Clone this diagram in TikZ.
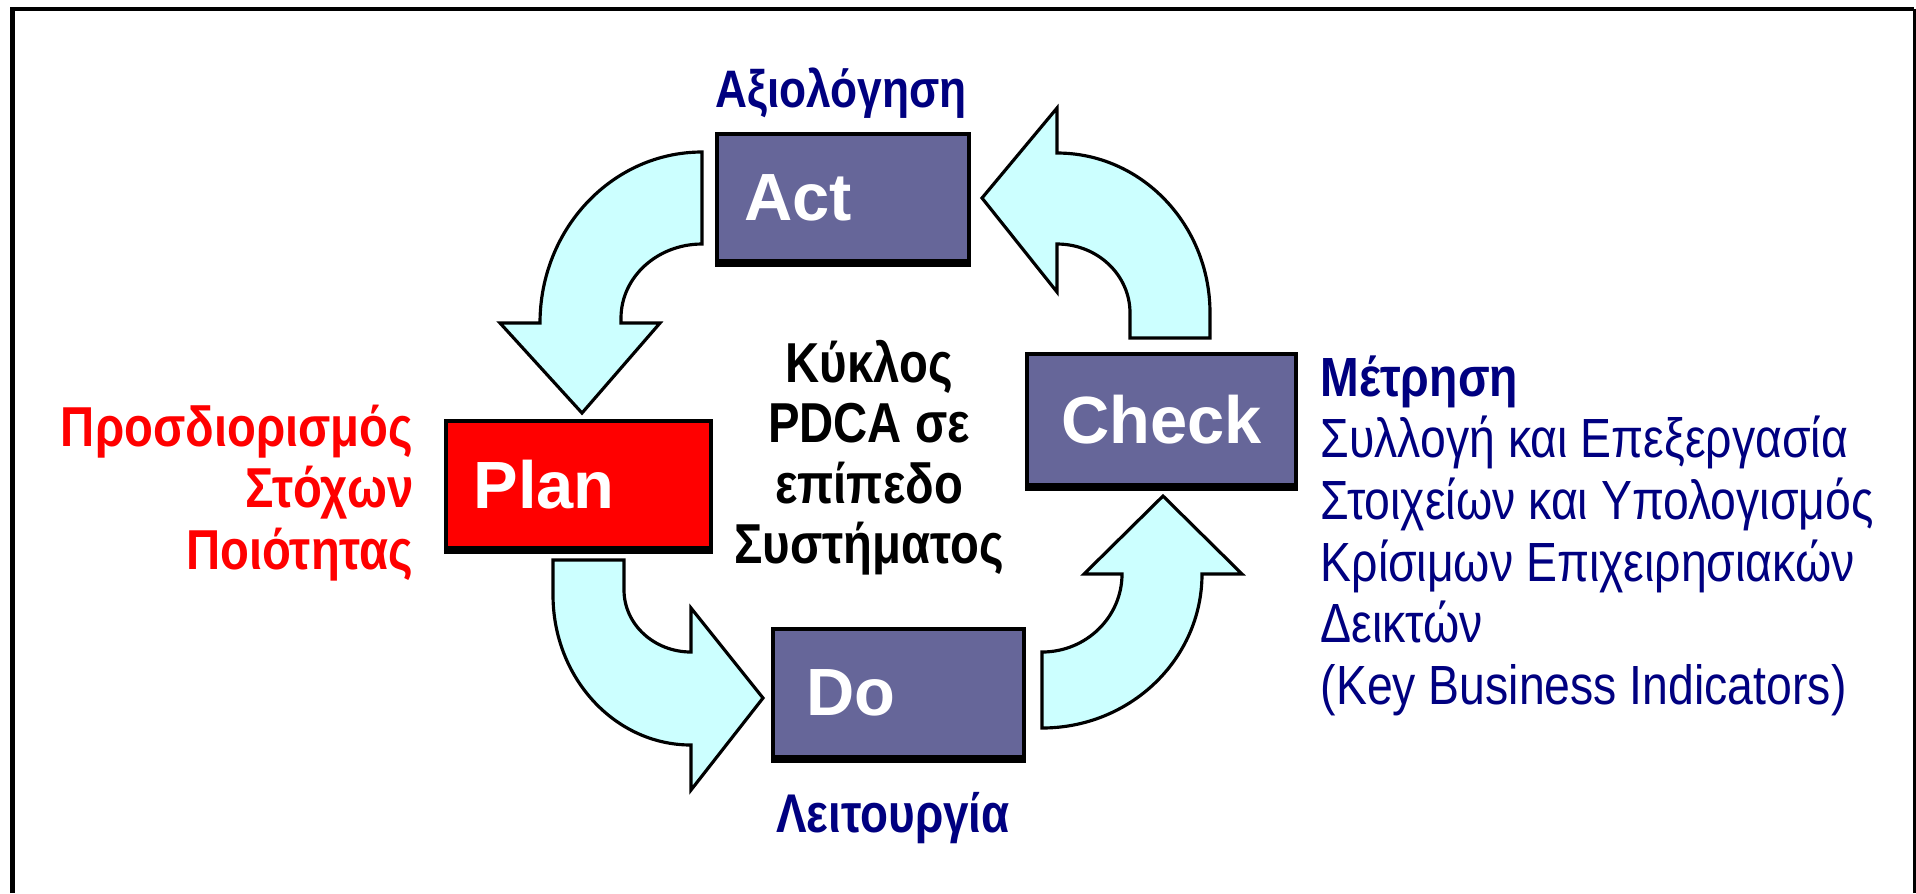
\documentclass[tikz,border=0pt]{standalone}
\usepackage{fontspec}
\setmainfont{Liberation Sans}
\newfontfamily\narrowsans[FakeStretch=0.84]{Liberation Sans}
\usetikzlibrary{positioning}
\definecolor{pdcanavy}{HTML}{000080}
\definecolor{pdcabox}{HTML}{666699}
\definecolor{pdcacyan}{HTML}{CCFFFF}

\begin{document}
\begin{tikzpicture}[x=0.01cm, y=-0.01cm,
    stagebox/.style={draw=black, line width=1.2pt, fill=pdcabox, inner sep=0pt,
        minimum width=2.52cm, minimum height=1.27cm},
    stagelabel/.style={font=\bfseries\fontsize{19pt}{22pt}\selectfont, text=white,
        inner sep=0pt, anchor=west},
    cyclearrow/.style={draw=black, line width=0.9pt, fill=pdcacyan, line join=miter},
    phaseword/.style={font=\narrowsans\bfseries\fontsize{15.5pt}{18pt}\selectfont,
        text=pdcanavy, inner sep=0pt, anchor=base}]
    \useasboundingbox (0,0) rectangle (1916,893);

    % frame
    \draw[line width=1.4pt] (12.5,893) -- (12.5,9) -- (1914,9);
    \draw[line width=0.8pt] (1914.5,9) -- (1914.5,893);

    % cycle arrows
    % Act -> Plan
    \draw[cyclearrow] (702,152) .. controls (612.6,152) and (540,228.6) .. (540,323)
        -- (500,323) -- (582,413) -- (660,323) -- (621,323) -- (621,318)
        .. controls (621,277.2) and (657.3,244) .. (702,244) -- cycle;
    % Check -> Act
    \draw[cyclearrow] (1130,338) -- (1210,338) -- (1210,313)
        .. controls (1210,224.7) and (1141.5,153) .. (1057,153)
        -- (1057,108) -- (982,198) -- (1057,292) -- (1057,244)
        .. controls (1097.3,244) and (1130,274.9) .. (1130,313) -- cycle;
    % Plan -> Do
    \draw[cyclearrow] (553,560) -- (624,560) -- (624,590)
        .. controls (624,624.2) and (654,652) .. (691,652)
        -- (691,608) -- (763,698) -- (691,790) -- (691,745)
        .. controls (614.8,745) and (553,677.8) .. (553,595) -- cycle;
    % Do -> Check
    \draw[cyclearrow] (1042,728) .. controls (1130.3,728) and (1202,659) .. (1202,574)
        -- (1242,574) -- (1163,496) -- (1084,574) -- (1122,574)
        .. controls (1122,617) and (1086.2,652) .. (1042,652) -- cycle;

    % stages
    \node[stagebox] (act) at (843,197.5) {};
    \node[stagebox, fill=red, minimum width=2.65cm] (plan) at (578.5,484.5) {};
    \node[stagebox, minimum width=2.69cm, minimum height=1.31cm] (check) at (1161.5,419.5) {};
    \node[stagebox, minimum width=2.51cm, minimum height=1.28cm] (do) at (898.5,693) {};
    \foreach \s in {act,plan,check,do}
        \draw[line width=1.2pt] ([yshift=-0.015cm]\s.south west) -- ([yshift=-0.015cm]\s.south east);
    \node[stagelabel] (actlbl) at ([xshift=0.29cm]act.west) {Act};
    \node[stagelabel] (planlbl) at ([xshift=0.29cm]plan.west) {Plan};
    \node[stagelabel] (checklbl) at ([xshift=0.36cm]check.west) {Check};
    \node[stagelabel] (dolbl) at ([xshift=0.35cm]do.west) {Do};

    % texts
    \node[phaseword, font=\narrowsans\bfseries\fontsize{15pt}{18pt}\selectfont] (evaluate) at (841,107) {Αξιολόγηση};
    \node[phaseword] (operate) at (893,832) {Λειτουργία};
    \node[font=\narrowsans\bfseries\fontsize{16pt}{17.07pt}\selectfont, align=center,
        anchor=north, inner sep=0pt] (cycletxt) at (869,340)
        {Κύκλος\\PDCA σε\\επίπεδο\\Συστήματος};
    \node[font=\narrowsans\bfseries\fontsize{16pt}{17.5pt}\selectfont, text=red,
        align=right, anchor=north east, inner sep=0pt] (goals) at (414,404)
        {Προσδιορισμός\\Στόχων\\Ποιότητας};
    \node[font=\narrowsans\fontsize{15.7pt}{17.5pt}\selectfont, text=pdcanavy,
        align=left, anchor=north west, inner sep=0pt] (measure) at (1320,355)
        {\textbf{Μέτρηση}\\Συλλογή και Επεξεργασία\\Στοιχείων και Υπολογισμός\\Κρίσιμων Επιχειρησιακών\\Δεικτών\\(Key Business Indicators)};
\end{tikzpicture}
\end{document}
